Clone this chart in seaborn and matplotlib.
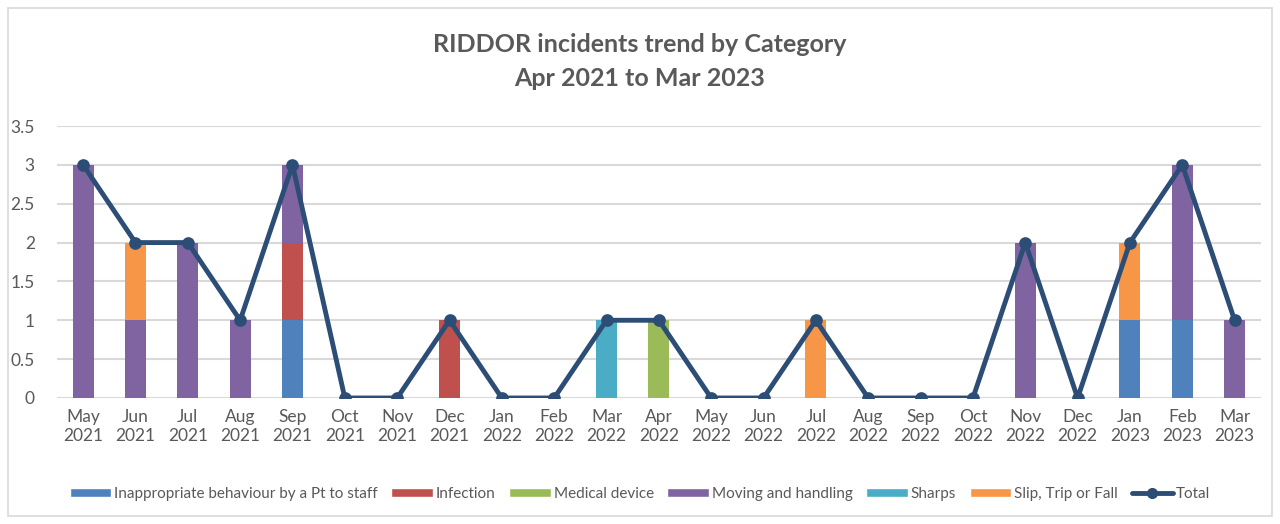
import numpy as np
import pandas as pd
import matplotlib
matplotlib.use("Agg")
import matplotlib.pyplot as plt
import seaborn as sns
from matplotlib.patches import Patch, Rectangle
from matplotlib.lines import Line2D
from matplotlib.ticker import FuncFormatter

# ----- Data -----
months = ["May\n2021", "Jun\n2021", "Jul\n2021", "Aug\n2021", "Sep\n2021", "Oct\n2021",
          "Nov\n2021", "Dec\n2021", "Jan\n2022", "Feb\n2022", "Mar\n2022", "Apr\n2022",
          "May\n2022", "Jun\n2022", "Jul\n2022", "Aug\n2022", "Sep\n2022", "Oct\n2022",
          "Nov\n2022", "Dec\n2022", "Jan\n2023", "Feb\n2023", "Mar\n2023"]

inappropriate = [0, 0, 0, 0, 1, 0, 0, 0, 0, 0, 0, 0, 0, 0, 0, 0, 0, 0, 0, 0, 1, 1, 0]
infection     = [0, 0, 0, 0, 1, 0, 0, 1, 0, 0, 0, 0, 0, 0, 0, 0, 0, 0, 0, 0, 0, 0, 0]
medical       = [0, 0, 0, 0, 0, 0, 0, 0, 0, 0, 0, 1, 0, 0, 0, 0, 0, 0, 0, 0, 0, 0, 0]
moving        = [3, 1, 2, 1, 1, 0, 0, 0, 0, 0, 0, 0, 0, 0, 0, 0, 0, 0, 2, 0, 0, 2, 1]
sharps        = [0, 0, 0, 0, 0, 0, 0, 0, 0, 0, 1, 0, 0, 0, 0, 0, 0, 0, 0, 0, 0, 0, 0]
slip          = [0, 1, 0, 0, 0, 0, 0, 0, 0, 0, 0, 0, 0, 0, 1, 0, 0, 0, 0, 0, 1, 0, 0]
total         = [3, 2, 2, 1, 3, 0, 0, 1, 0, 0, 1, 1, 0, 0, 1, 0, 0, 0, 2, 0, 2, 3, 1]

categories = ["Inappropriate behaviour by a Pt to staff", "Infection", "Medical device",
              "Moving and handling", "Sharps", "Slip, Trip or Fall"]
series = [inappropriate, infection, medical, moving, sharps, slip]
colors = ["#4F81BD", "#C0504D", "#9BBB59", "#8064A2", "#4BACC6", "#F79646"]
line_color = "#2C4D75"
text_color = "#595959"

# ----- Plot -----
sns.set_theme(style="white")
plt.rcParams["font.family"] = ["Lato", "DejaVu Sans"]

fig = plt.figure(figsize=(12.8, 5.24), dpi=100)
ax = fig.add_axes([0.0445, 0.2405, 0.9405, 0.519])

bottom = np.zeros(len(months))
for name, vals, col in zip(categories, series, colors):
    sns.barplot(x=months, y=vals, color=col, width=0.4, bottom=bottom,
                saturation=1, ax=ax, errorbar=None, zorder=2,
                edgecolor="none", linewidth=0)
    bottom += np.array(vals)

sns.pointplot(x=months, y=total, color=line_color, markers="o", linestyles="-",
              markersize=6.5, linewidth=3.5, ax=ax, errorbar=None, zorder=3)

ax.set_ylim(0, 3.5)
ax.set_xlim(-0.5, len(months) - 0.5)
ax.set_yticks(np.arange(0, 3.51, 0.5))
ax.yaxis.set_major_formatter(FuncFormatter(lambda v, p: f"{v:g}"))
ax.grid(axis="y", color="#D9D9D9", linewidth=1.5, zorder=0)
ax.set_axisbelow(True)
for s in ax.spines.values():
    s.set_visible(False)
ax.tick_params(axis="both", length=0, labelsize=12.5, labelcolor=text_color)
ax.tick_params(axis="y", pad=16)
ax.tick_params(axis="x", pad=8)
ax.set_xlabel("")
ax.set_ylabel("")

fig.text(0.5, 0.915, "RIDDOR incidents trend by Category", ha="center", va="center",
         fontsize=18, fontweight="bold", color=text_color)
fig.text(0.5, 0.85, "Apr 2021 to Mar 2023", ha="center", va="center",
         fontsize=18, fontweight="bold", color=text_color)

handles = [Patch(facecolor=c, label=n) for n, c in zip(categories, colors)]
handles.append(Line2D([0], [0], color=line_color, linewidth=3.5, marker="o",
                      markersize=7, label="Total"))
fig.legend(handles=handles, loc="center", bbox_to_anchor=(0.5, 0.058), ncol=7,
           frameon=False, fontsize=11, handlelength=2.7, handleheight=0.55,
           handletextpad=0.2, columnspacing=0.9, labelcolor=text_color)

fig.patches.append(Rectangle((0.006, 0.015), 0.988, 0.97, transform=fig.transFigure,
                             fill=False, edgecolor="#D9D9D9", linewidth=1.2))

fig.savefig("out.png", dpi=100)
